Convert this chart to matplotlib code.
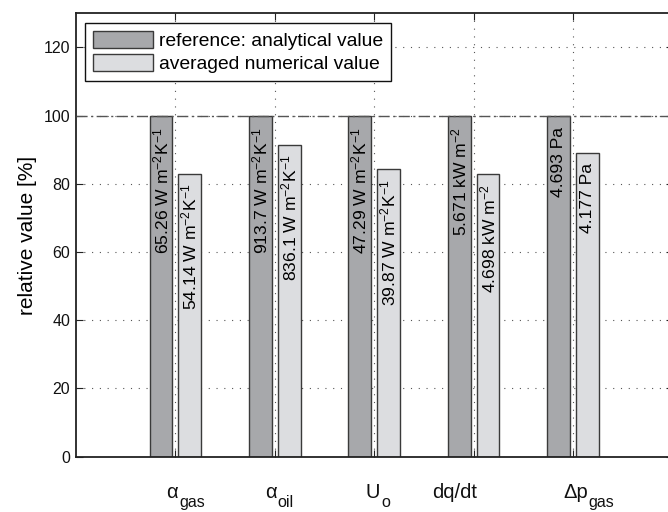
import matplotlib
matplotlib.use('Agg')
import matplotlib.pyplot as plt
import matplotlib.transforms as mtransforms
import numpy as np

plt.rcParams['font.family'] = ['Liberation Sans', 'DejaVu Sans']
plt.rcParams['mathtext.fontset'] = 'custom'
plt.rcParams['mathtext.rm'] = 'Liberation Sans'
plt.rcParams['mathtext.it'] = 'Liberation Sans:italic'
plt.rcParams['mathtext.bf'] = 'Liberation Sans:bold'
plt.rcParams['mathtext.default'] = 'regular'

# quantities shown along the x axis (symbol + subscript)
categories = ['α', 'α', 'U', 'dq/dt', 'Δp']
subscripts = ['gas', 'oil', 'o', '', 'gas']

# analytical (reference) and averaged numerical values, as printed on the bars
ref_values = [65.26, 913.7, 47.29, 5.671, 4.693]
num_values = [54.14, 836.1, 39.87, 4.698, 4.177]
units = ['W m$^{-2}$K$^{-1}$', 'W m$^{-2}$K$^{-1}$', 'W m$^{-2}$K$^{-1}$',
         'kW m$^{-2}$', 'Pa']

legend_labels = ['reference: analytical value', 'averaged numerical value']
yticks = [0, 20, 40, 60, 80, 100, 120]

# relative values in percent of the analytical value
ref_pct = np.array(ref_values) / np.array(ref_values) * 100
num_pct = np.array(num_values) / np.array(ref_values) * 100

dark = '#a7a8ab'
light = '#dcdde0'
edge = '#3a3a3a'
grid_style = dict(color='#555555', linewidth=0.8, linestyle=(0, (1, 6)))

fig = plt.figure(figsize=(6.68, 5.12), dpi=100)
ax = fig.add_axes([76 / 668, 55.3 / 512, 596.7 / 668, 443.4 / 512])

x = np.arange(1, len(categories) + 1)
w = 0.23
b1 = ax.bar(x - 0.145, ref_pct, w, color=dark, edgecolor=edge, linewidth=1.0,
            zorder=2, label=legend_labels[0])
b2 = ax.bar(x + 0.143, num_pct, w, color=light, edgecolor=edge, linewidth=1.0,
            zorder=2, label=legend_labels[1])

# labels with the absolute values inside the bars
for i in range(len(categories)):
    ax.text(x[i] - 0.145, ref_pct[i] - 3.4, f'{ref_values[i]:.4g} {units[i]}',
            rotation=90, ha='center', va='top', fontsize=12.6, zorder=4)
    ax.text(x[i] + 0.143, num_pct[i] - 3.0, f'{num_values[i]:.4g} {units[i]}',
            rotation=90, ha='center', va='top', fontsize=12.6, zorder=4)

# 100 % reference line
ax.axhline(100, color='#555555', linewidth=1.0, linestyle=(0, (8, 2.5, 1.5, 2.5)),
           zorder=3)

ax.set_xlim(0, 6)
ax.set_ylim(0, 130)
ax.set_yticks(yticks)
ax.set_xticks(x)
ax.set_xticklabels(categories, fontsize=14.5, va='baseline', ha='left')
ax.tick_params(axis='x', direction='in', length=5, pad=29.5, top=True,
               colors='#222222', labelcolor='#111111')
ax.tick_params(axis='y', direction='in', length=5, pad=4.3, right=True,
               labelsize=11.5, colors='#222222', labelcolor='#111111')

# the x labels start a little left of their ticks (pixels)
shifts = [-9.5, -9.3, -9.3, -41.3, -10.3]
for lab, dx in zip(ax.get_xticklabels(), shifts):
    lab.set_transform(lab.get_transform() +
                      mtransforms.ScaledTranslation(dx / 100, 0, fig.dpi_scale_trans))

ax.set_ylabel('relative value [%]', fontsize=15, labelpad=4.5)

ax.set_axisbelow(True)
ax.grid(True, **grid_style)
for s in ax.spines.values():
    s.set_linewidth(1.3)
    s.set_color('#222222')

leg = ax.legend(handles=[b1, b2], loc='upper left',
                bbox_to_anchor=(85 / 668, 1 - 23 / 512),
                bbox_transform=fig.transFigure, fontsize=13.9,
                fancybox=False, framealpha=1, edgecolor='#111111',
                handlelength=3.1, handleheight=0.95, handletextpad=0.3,
                labelspacing=0.22, borderpad=0.42, borderaxespad=0)
leg.get_frame().set_linewidth(1.0)

# subscripts of the x labels, placed after the measured symbols
fig.canvas.draw()
renderer = fig.canvas.get_renderer()
sub_gap = [2, 0, 2, 0, 1]
for lab, sub, gap in zip(ax.get_xticklabels(), subscripts, sub_gap):
    if not sub:
        continue
    bb = lab.get_window_extent(renderer)
    base_y = bb.y0 + 4.5  # bbox bottom sits a bit below the baseline
    fig.text((bb.x1 + gap) / 668, (base_y - 9.5) / 512, sub, fontsize=11.5,
             ha='left', va='baseline', color='#111111')

fig.savefig('out.png', dpi=100)
